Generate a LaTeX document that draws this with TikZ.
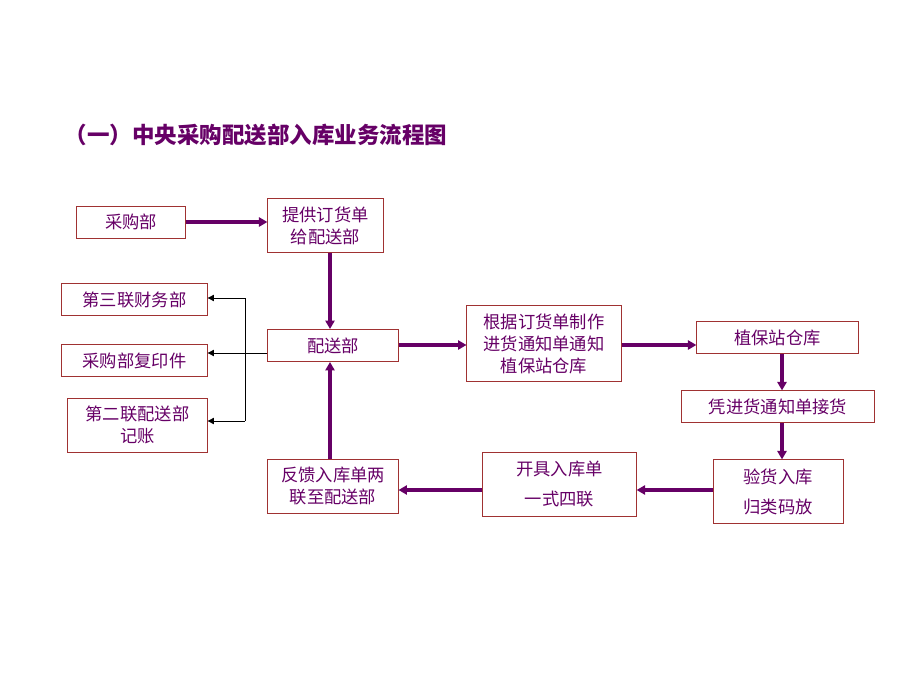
\documentclass[tikz,border=0pt]{standalone}
\usepackage{fontspec}
\newfontfamily\cjk{Noto Sans CJK SC}
\usetikzlibrary{arrows.meta}
\definecolor{lnpurple}{RGB}{102,0,102}
\definecolor{txpurple}{RGB}{102,0,102}
\definecolor{boxred}{RGB}{160,50,50}
\tikzset{
  box/.style={draw=boxred, line width=0.7pt, text=txpurple, inner sep=0pt, align=center,
    font=\cjk\fontsize{12.3}{15.6}\selectfont},
  bigarrow/.style={draw=lnpurple, line width=2.2pt, -{Triangle[length=6pt,width=6.5pt]}},
  thinarrow/.style={draw=black, line width=0.5pt, -{Triangle[length=4.5pt,width=4.5pt]}}
}
\begin{document}
\begin{tikzpicture}[x=0.025cm,y=-0.025cm]
\useasboundingbox (0,0) rectangle (920,690);
\node[anchor=west, text=txpurple, font=\cjk\fontsize{16}{19}\selectfont\bfseries] (title) at (60,135) {（一）中央采购配送部入库业务流程图};

\node[box, minimum width=2.70cm, minimum height=0.80cm] (cg) at (131,222) {采购部};
\node[box, minimum width=2.88cm, minimum height=1.33cm] (tg) at (325.5,225.5) {提供订货单\\给配送部};
\node[box, minimum width=3.63cm, minimum height=0.78cm] (sl) at (134.5,299.5) {第三联财务部};
\node[box, minimum width=3.63cm, minimum height=0.80cm] (fy) at (134.5,360.5) {采购部复印件};
\node[box, minimum width=3.48cm, minimum height=1.35cm] (el) at (137.5,425) {第二联配送部\\记账};
\node[box, minimum width=3.25cm, minimum height=0.80cm] (ps) at (333,345.5) {配送部};
\node[box, minimum width=3.85cm, minimum height=1.88cm] (gj) at (544,343.5) {根据订货单制作\\进货通知单通知\\植保站仓库};
\node[box, minimum width=4.03cm, minimum height=0.78cm] (zb) at (777.5,337.5) {植保站仓库};
\node[box, minimum width=4.80cm, minimum height=0.78cm] (pj) at (778,406.5) {凭进货通知单接货};
\node[box, minimum width=3.25cm, minimum height=1.58cm] (yh) at (778,491.5) {验货入库\\[5.7pt]归类码放};
\node[box, minimum width=3.83cm, minimum height=1.60cm] (kj) at (559.5,484) {开具入库单\\[5.7pt]一式四联};
\node[box, minimum width=3.25cm, minimum height=1.35cm] (fk) at (333,486) {反馈入库单两\\联至配送部};

\draw[bigarrow] (cg) -- (tg.west |- cg);
\draw[bigarrow] (tg.south -| 330,0) -- (ps.north -| 330,0);
\draw[bigarrow] (fk.north -| 330,0) -- (ps.south -| 330,0);
\draw[bigarrow] (ps.east |- 0,345) -- (gj.west |- 0,345);
\draw[bigarrow] (gj.east |- 0,345) -- (zb.west |- 0,345);
\draw[bigarrow] (zb.south -| 782,0) -- (pj.north -| 782,0);
\draw[bigarrow] (pj.south -| 782,0) -- (yh.north -| 782,0);
\draw[bigarrow] (yh.west |- 0,490) -- (kj.east |- 0,490);
\draw[bigarrow] (kj.west |- 0,490) -- (fk.east |- 0,490);

\coordinate (jt) at (245,298);
\coordinate (jb) at (245,421);
\draw[thinarrow] (ps.west |- 0,353) -- (fy.east |- 0,353);
\draw[line width=0.5pt] (jt) -- (jb);
\draw[thinarrow] (jt) -- (jt -| sl.east);
\draw[thinarrow] (jb) -- (jb -| el.east);
\end{tikzpicture}
\end{document}
